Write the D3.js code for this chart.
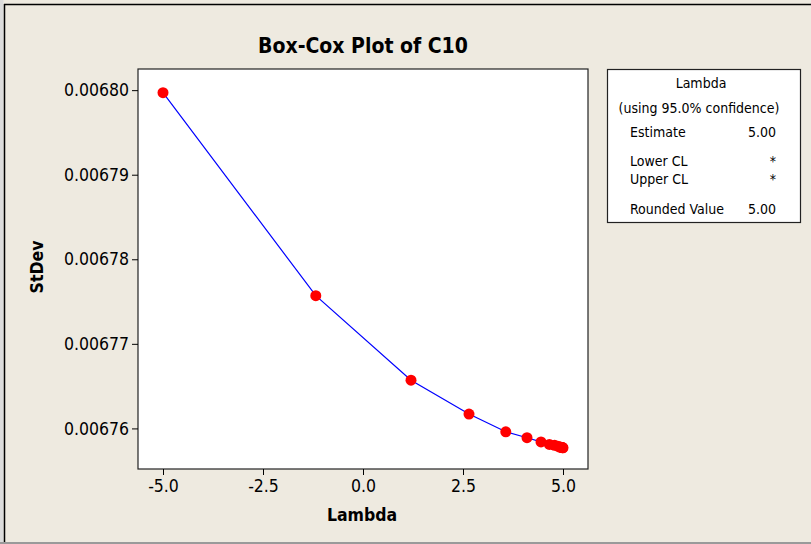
<!DOCTYPE html>
<html>
<head>
<meta charset="utf-8">
<script src="https://cdn.jsdelivr.net/npm/d3@7"></script>
<style>
  body { margin: 0; background: #eeeae0; }
  svg { display: block; }
</style>
</head>
<body>
<script>
// lambda values tried and the StDev at each
const lambdas = [-5.0, -1.18, 1.2, 2.65, 3.57, 4.1, 4.45, 4.66, 4.79, 4.87, 4.92, 4.95, 4.97, 4.98, 4.99, 5.0];
const stdevs = [0.0067997, 0.0067757, 0.0067657, 0.0067617, 0.0067596, 0.0067589, 0.0067584, 0.0067581,
                0.0067580, 0.0067579, 0.0067578, 0.00675777, 0.00675775, 0.00675773, 0.00675772, 0.0067577];
const xTicks = [-5.0, -2.5, 0.0, 2.5, 5.0];
const yTicks = [0.00676, 0.00677, 0.00678, 0.00679, 0.00680];
const legendRows = [["Estimate", "5.00", 132], ["Lower CL", "*", 161], ["Upper CL", "*", 179], ["Rounded Value", "5.00", 209]];

var width = 811, height = 544;
var font = "Tahoma, 'DejaVu Sans Condensed', 'Liberation Sans', sans-serif";
var plot = {left: 138, top: 69, right: 588, bottom: 469};

var x = d3.scaleLinear().domain([-5.625, 5.625]).range([plot.left, plot.right]);
var y = d3.scaleLinear().domain([0.0067552, 0.0068025]).range([plot.bottom, plot.top]);

var svg = d3.select("body").append("svg")
    .attr("width", width)
    .attr("height", height)
    .attr("font-family", font);

svg.append("rect").attr("width", width).attr("height", height).attr("fill", "#eeeae0");
// outer frame
svg.append("rect").attr("x", 0).attr("y", 0).attr("width", 3.5).attr("height", height).attr("fill", "#dcdcdc");
svg.append("line").attr("x1", 4.5).attr("x2", 4.5).attr("y1", 4).attr("y2", 542).attr("stroke", "#000").attr("stroke-width", 1.5);
svg.append("line").attr("x1", 4).attr("x2", width).attr("y1", 4.5).attr("y2", 4.5).attr("stroke", "#000").attr("stroke-width", 1.5);
svg.append("line").attr("x1", 0).attr("x2", width).attr("y1", 543).attr("y2", 543).attr("stroke", "#9a9a9a").attr("stroke-width", 2);

svg.append("text")
    .attr("x", 363).attr("y", 53)
    .attr("text-anchor", "middle")
    .attr("font-size", 21).attr("font-weight", "bold")
    .text("Box-Cox Plot of C10");

svg.append("rect")
    .attr("x", plot.left).attr("y", plot.top)
    .attr("width", plot.right - plot.left).attr("height", plot.bottom - plot.top)
    .attr("fill", "#fff").attr("stroke", "#222").attr("stroke-width", 1.2);

var hyphen = f => d => f(d).replace("\u2212", "-");

var xAxis = svg.append("g")
    .attr("transform", `translate(0,${plot.bottom})`)
    .call(d3.axisBottom(x).tickValues(xTicks).tickFormat(hyphen(d3.format(".1f"))).tickSizeOuter(0).tickSize(6).tickPadding(5));
xAxis.select(".domain").remove();
xAxis.selectAll("text").attr("font-size", 17.5).attr("font-family", font).attr("fill", "#000");

var yAxis = svg.append("g")
    .attr("transform", `translate(${plot.left},0)`)
    .call(d3.axisLeft(y).tickValues(yTicks).tickFormat(d3.format(".5f")).tickSizeOuter(0).tickSize(6).tickPadding(3));
yAxis.select(".domain").remove();
yAxis.selectAll("text").attr("font-size", 17.5).attr("font-family", font).attr("fill", "#000");

svg.append("text")
    .attr("x", 362).attr("y", 521)
    .attr("text-anchor", "middle")
    .attr("font-size", 17.5).attr("font-weight", "bold")
    .text("Lambda");

svg.append("text")
    .attr("transform", "translate(43,267) rotate(-90)")
    .attr("text-anchor", "middle")
    .attr("font-size", 17.5).attr("font-weight", "bold")
    .text("StDev");

var pts = lambdas.map((l, i) => [l, stdevs[i]]);
svg.append("path")
    .datum(pts)
    .attr("fill", "none")
    .attr("stroke", "#0000ff")
    .attr("stroke-width", 1.2)
    .attr("d", d3.line().x(d => x(d[0])).y(d => y(d[1])));

svg.append("g")
  .selectAll("circle")
  .data(pts)
  .join("circle")
    .attr("cx", d => x(d[0]))
    .attr("cy", d => y(d[1]))
    .attr("r", 5.5)
    .attr("fill", "#ff0000");

// legend box
var lg = svg.append("g").attr("font-size", 14);
lg.append("rect")
    .attr("x", 607.5).attr("y", 69.5).attr("width", 193).attr("height", 153)
    .attr("fill", "#fff").attr("stroke", "#222").attr("stroke-width", 1.2);
lg.append("text").attr("x", 701).attr("y", 88).attr("text-anchor", "middle").text("Lambda");
lg.append("text").attr("x", 699).attr("y", 113).attr("text-anchor", "middle").text("(using 95.0% confidence)");
lg.selectAll(".lbl").data(legendRows).join("text")
    .attr("x", 630).attr("y", d => d[2] + 5).text(d => d[0]);
lg.selectAll(".val").data(legendRows).join("text")
    .attr("x", 776).attr("y", d => d[2] + 5).attr("text-anchor", "end").text(d => d[1]);
</script>
</body>
</html>
